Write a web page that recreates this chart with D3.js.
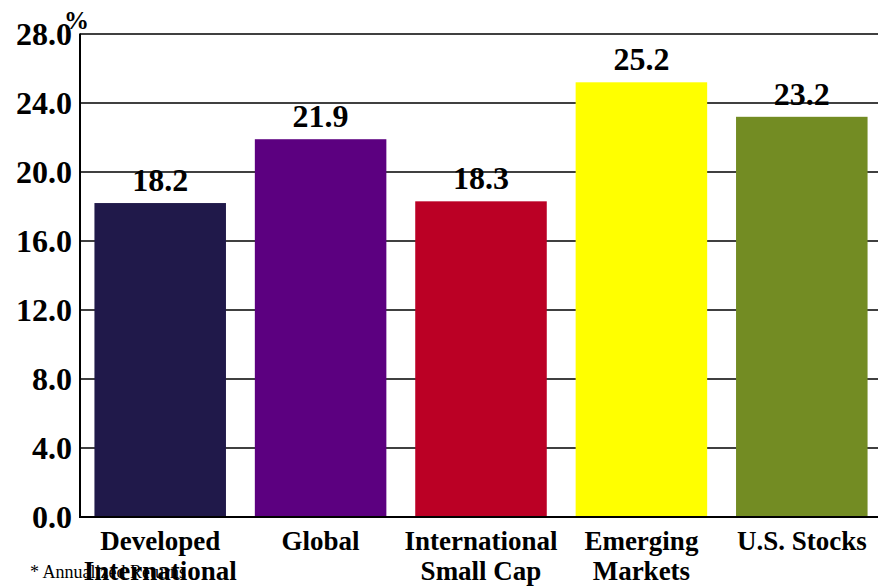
<!DOCTYPE html>
<html><head><meta charset="utf-8">
<script src="https://cdn.jsdelivr.net/npm/d3@7"></script>
<style>body{margin:0;background:#fff}svg{display:block}</style>
</head><body>
<script>
const categories = [["Developed","International"],["Global"],["International","Small Cap"],["Emerging","Markets"],["U.S. Stocks"]];
const values = [18.2, 21.9, 18.3, 25.2, 23.2];
const colors = ["#20194a", "#5c0080", "#bb0025", "#ffff00", "#738c23"];
const yTicks = [0, 4, 8, 12, 16, 20, 24, 28];

(function () {
const W = 878, H = 586;
const mLeft = 80, mTop = 34, mBottom = 517, mRight = 882;
const font = "'Liberation Serif','Times New Roman',serif";

const svg = d3.select("body").append("svg").attr("width", W).attr("height", H);

const x = d3.scaleBand().domain(d3.range(values.length)).range([mLeft, mRight]).paddingInner(0.18).paddingOuter(0.09);
const y = d3.scaleLinear().domain([0, 28]).range([mBottom, mTop]);

// gridlines
svg.append("g").selectAll("line").data(yTicks.filter(d => d > 0)).join("line")
  .attr("x1", mLeft).attr("x2", W).attr("y1", d => y(d)).attr("y2", d => y(d))
  .attr("stroke", "#000").attr("stroke-width", 1.3);

// bars
svg.append("g").selectAll("rect").data(values).join("rect")
  .attr("x", (d, i) => x(i)).attr("width", x.bandwidth())
  .attr("y", d => y(d)).attr("height", d => y(0) - y(d))
  .attr("fill", (d, i) => colors[i]);

// axes lines
svg.append("line").attr("x1", mLeft).attr("x2", mLeft).attr("y1", mTop - 0.5).attr("y2", mBottom + 1)
  .attr("stroke", "#000").attr("stroke-width", 2);
svg.append("line").attr("x1", mLeft).attr("x2", W).attr("y1", mBottom).attr("y2", mBottom)
  .attr("stroke", "#000").attr("stroke-width", 2.2);

// y tick labels
svg.append("g").selectAll("text").data(yTicks).join("text")
  .attr("x", 72).attr("y", d => y(d)).attr("dy", "0.35em")
  .attr("text-anchor", "end").attr("font-family", font).attr("font-weight", "bold")
  .attr("font-size", 32).text(d => d.toFixed(1));

svg.append("text").attr("x", 64).attr("y", 29).attr("font-family", font)
  .attr("font-weight", "bold").attr("font-size", 25).text("%");

// value labels
svg.append("g").selectAll("text").data(values).join("text")
  .attr("x", (d, i) => x(i) + x.bandwidth() / 2).attr("y", d => y(d) - 12)
  .attr("text-anchor", "middle").attr("font-family", font).attr("font-weight", "bold")
  .attr("font-size", 32).text(d => d.toFixed(1));

// footnote (drawn before category labels so they overlap as in reference)
svg.append("text").attr("x", 30).attr("y", 578).attr("font-family", font)
  .attr("font-size", 18).text("* Annualized Returns");

// category labels
const cat = svg.append("g").selectAll("text").data(categories).join("text")
  .attr("text-anchor", "middle").attr("font-family", font).attr("font-weight", "bold")
  .attr("font-size", 27);
cat.each(function(lines, i) {
  d3.select(this).selectAll("tspan").data(lines).join("tspan")
    .attr("x", x(i) + x.bandwidth() / 2).attr("y", (l, j) => 550 + j * 30).text(l => l);
});
})();
</script>
</body></html>
